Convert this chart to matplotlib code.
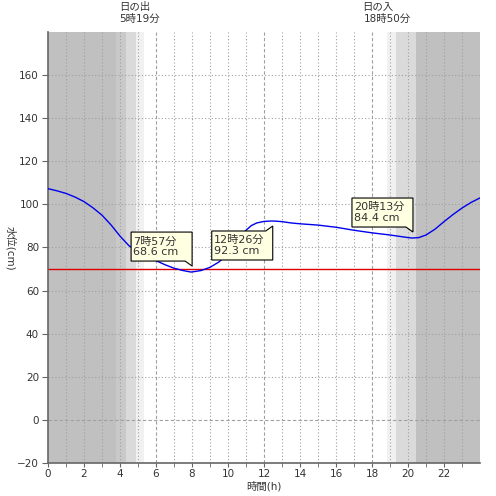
import matplotlib
matplotlib.use('Agg')
import matplotlib.pyplot as plt
import matplotlib.transforms as mtransforms
from matplotlib.patches import Polygon

plt.rcParams['font.family'] = ['DejaVu Sans', 'Noto Sans CJK JP']

# 潮位 (時間, cm) - 図から読み取り
hours = [0, 0.5, 1, 1.5, 2, 2.5, 3, 3.5, 4, 4.5, 5, 5.5, 6, 6.5, 7, 7.5, 7.95, 8.5,
         9, 9.5, 10, 10.5, 11, 11.3, 11.6, 12, 12.43, 12.7, 13, 13.5, 14, 15, 16,
         17, 18, 19, 20, 20.22, 20.6, 21, 21.5, 22, 22.5, 23, 23.5, 24]
level = [107.3, 106.3, 105.1, 103.4, 101.3, 98.4, 95.0, 90.5, 85.3, 80.8, 78.2,
         76.0, 73.9, 72.0, 70.4, 69.3, 68.6, 69.3, 70.8, 73.3, 77.0, 82.5, 88.0,
         90.2, 91.4, 92.1, 92.3, 92.2, 92.0, 91.4, 91.0, 90.4, 89.4, 88.0, 86.8,
         85.8, 84.6, 84.4, 84.6, 85.8, 88.5, 92.0, 95.3, 98.3, 100.9, 103.0]

base_level = 70

# 夜・薄明の帯 (開始, 終了, 色)
bands = [(0, 3.78, '#c0c0c0'), (3.78, 4.33, '#c9c9c9'), (4.33, 4.89, '#dadada'),
         (4.89, 5.32, '#f1f1f1'),
         (18.83, 19.33, '#f1f1f1'), (19.33, 20.44, '#dadada'), (20.44, 24, '#c0c0c0')]

sunrise = 5 + 19 / 60
sunset = 18 + 50 / 60

# 極値の吹き出し (時刻, 水位, ラベル, 向き)
peaks = [(7.95, 68.6, '7時57分\n68.6 cm', 'down'),
         (12.43, 92.3, '12時26分\n92.3 cm', 'up'),
         (20.22, 84.4, '20時13分\n84.4 cm', 'down')]

FS = 7.5
TXT = '#333333'


def callout(ax, x, y, text, way):
    tr = mtransforms.ScaledTranslation(x, y, ax.transData)
    L, R = -60, 1
    if way == 'down':
        B, T, tip = 11, 40, 6
        verts = [(L, B), (R - 7, B), (R, tip), (R, T), (L, T)]
    else:
        B, T, tip = -39, -10, -5
        verts = [(L, B), (R, B), (R, tip), (R - 7, T), (L, T)]
    ax.add_patch(Polygon(verts, closed=True, transform=tr, facecolor='#ffffe1',
                         edgecolor='black', linewidth=0.8, zorder=5, clip_on=False))
    ax.annotate(text, (x, y), xytext=(L + 2, (B + T) / 2), textcoords='offset pixels',
                ha='left', va='center', fontsize=8, color=TXT, linespacing=1.05,
                zorder=6)


fig = plt.figure(figsize=(4.96, 4.96), dpi=100)
ax = fig.add_axes([48 / 496, 33 / 496, 432 / 496, 431 / 496])

for a, b, c in bands:
    ax.axvspan(a, b, color=c, lw=0, zorder=0)

for h in range(1, 24):
    if h % 6 == 0:
        ax.axvline(h, color='#a0a0a0', lw=0.8, ls=(0, (3, 2)), zorder=1)
    else:
        ax.axvline(h, color='#a0a0a0', lw=0.8, ls=(0, (1, 2)), zorder=1)
for v in range(0, 180, 20):
    if v == 0:
        ax.axhline(v, color='#a0a0a0', lw=0.8, ls=(0, (3, 2)), zorder=1)
    else:
        ax.axhline(v, color='#a0a0a0', lw=0.8, ls=(0, (1, 2)), zorder=1)

ax.axhline(base_level, color='#dd0000', lw=1, zorder=2)
ax.plot(hours, level, color='#0000ee', lw=1, zorder=3)

for x, y, t, w in peaks:
    callout(ax, x, y, t, w)

ax.set_xlim(0, 24)
ax.set_ylim(-20, 180)
ax.set_xticks(range(0, 24, 2))
ax.set_xticks(range(1, 24, 2), minor=True)
ax.set_yticks(range(-20, 180, 20))
ax.tick_params(axis='both', which='both', direction='out', length=4, color='#666666',
               labelcolor=TXT, labelsize=FS)
ax.tick_params(axis='x', which='both', length=3, pad=1.5)
ax.tick_params(axis='y', pad=2.5)

for s in ['top', 'right']:
    ax.spines[s].set_visible(False)
for s in ['left', 'bottom']:
    ax.spines[s].set_color('#666666')
    ax.spines[s].set_linewidth(1.2)

fig.text(264 / 496, 1 - 486 / 496, '時間(h)', ha='center', va='center',
         fontsize=FS, color=TXT)
fig.text(10 / 496, 0.5, '水位(cm)', rotation=-90, ha='center', va='center',
         fontsize=FS, color=TXT)

# 日の出・日の入
fig.text((48 + sunrise * 18 - 8.5) / 496, 1 - 7 / 496, '日の出', ha='center', va='center',
         fontsize=FS, color=TXT)
fig.text((48 + sunrise * 18 - 4) / 496, 1 - 19 / 496, '5時19分', ha='center', va='center',
         fontsize=FS, color=TXT)
fig.text((48 + sunset * 18 - 9.5) / 496, 1 - 7 / 496, '日の入', ha='center', va='center',
         fontsize=FS, color=TXT)
fig.text((48 + sunset * 18) / 496, 1 - 19 / 496, '18時50分', ha='center', va='center',
         fontsize=FS, color=TXT)

fig.savefig('out.png', dpi=100)
